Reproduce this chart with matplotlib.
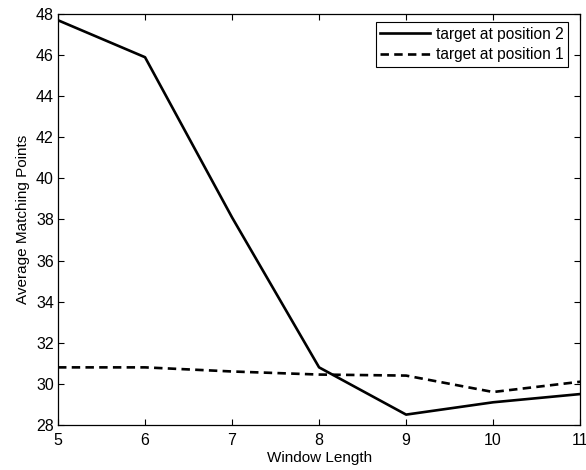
import matplotlib.pyplot as plt

plt.rcParams['font.family'] = ['Liberation Sans', 'DejaVu Sans']

window = [5, 6, 7, 8, 9, 10, 11]
pos2 = [47.7, 45.9, 38.1, 30.8, 28.5, 29.1, 29.5]
pos1 = [30.8, 30.8, 30.6, 30.45, 30.4, 29.6, 30.1]

fig = plt.figure(figsize=(5.86, 4.7), dpi=100)
ax = fig.add_axes([0.099, 0.096, 0.891, 0.874])

ax.plot(window, pos2, color="black", linewidth=1.9, label="target at position 2")
ax.plot(window, pos1, color="black", linewidth=1.9, linestyle=(0, (3.2, 2.0)),
        label="target at position 1")

ax.set_xlim(5, 11)
ax.set_ylim(28, 48)
ax.set_xticks(window)
ax.set_yticks(range(28, 49, 2))
ax.tick_params(direction="in", top=True, right=True, labelsize=11.5, length=4, width=0.8, pad=3)
ax.tick_params(axis="x", pad=6)
for s in ax.spines.values():
    s.set_linewidth(0.9)

ax.set_xlabel("Window Length", fontsize=11, labelpad=2)
ax.set_ylabel("Average Matching Points", fontsize=11, labelpad=4)

leg = ax.legend(loc="upper right", bbox_to_anchor=(568 / 586, 1 - 22 / 470),
                bbox_transform=fig.transFigure, borderaxespad=0,
                fontsize=11.2, frameon=True, fancybox=False,
                edgecolor="black", framealpha=1, handlelength=3.2,
                borderpad=0.3, labelspacing=0.35, handletextpad=0.35)
leg.get_frame().set_linewidth(0.8)

plt.savefig("out.png", dpi=100)
